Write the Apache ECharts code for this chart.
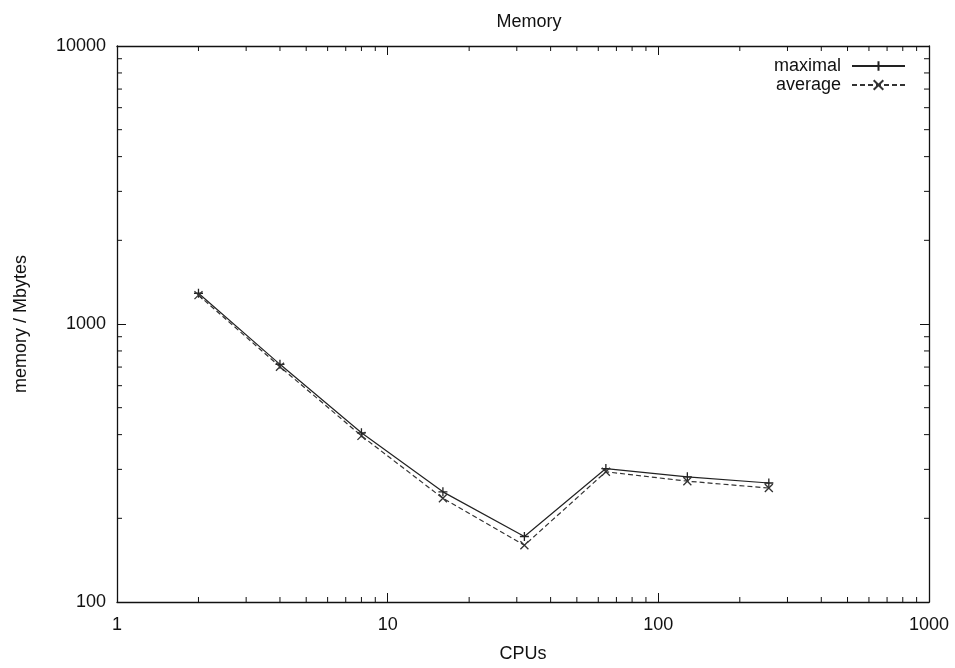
<!DOCTYPE html>
<html>
<head>
<meta charset="utf-8">
<script src="https://cdn.jsdelivr.net/npm/echarts@6/dist/echarts.min.js"></script>
<style>
html,body{margin:0;padding:0;background:#fff;}
#chart{width:955px;height:668px;}
</style>
</head>
<body>
<div id="chart"></div>
<script>
// CPU counts on the x axis
const cpus = [2, 4, 8, 16, 32, 64, 128, 256];
// Peak memory per run (Mbytes)
const maximal = [1290, 716, 406, 249, 172, 302, 282, 268];
// Mean memory per run (Mbytes)
const average = [1270, 702, 396, 236, 160, 294, 272, 257];
// Axis ranges (decades)
const xRange = [1, 1000];
const yRange = [100, 10000];

const FONT = '"Liberation Sans", Arial, sans-serif';
const INK = '#111';
const FS = 18;

// minor ticks at 2..9 within each decade
function minorValues(lo, hi) {
  const out = [];
  for (let d = lo; d < hi; d *= 10) {
    for (let k = 2; k <= 9; k++) out.push(d * k);
  }
  return out;
}
const xMinor = minorValues(xRange[0], xRange[1]);
const yMinor = minorValues(yRange[0], yRange[1]);

const tickData = [];
xMinor.forEach(v => { tickData.push([v, yRange[0], 'b']); tickData.push([v, yRange[1], 't']); });
yMinor.forEach(v => { tickData.push([xRange[0], v, 'l']); tickData.push([xRange[1], v, 'r']); });

const plusPath = 'path://M0,5L10,5M5,0L5,10';
const crossPath = 'path://M0,0L10,10M10,0L0,10';

const chart = echarts.init(document.getElementById('chart'), null, {renderer: 'canvas'});

const plainNumber = v => String(Math.round(v));

const axisBase = {
  type: 'log', logBase: 10,
  axisLine: {show: true, lineStyle: {color: INK, width: 1.3}},
  axisTick: {show: true, inside: true, length: 9, lineStyle: {color: INK, width: 1}},
  axisLabel: {show: false},
  splitLine: {show: false}
};

chart.setOption({
  animation: false,
  backgroundColor: '#fff',
  title: {
    text: 'Memory',
    left: 524, top: 8, textAlign: 'center',
    textStyle: {fontFamily: FONT, fontSize: FS, fontWeight: 'normal', color: INK}
  },
  legend: {
    orient: 'vertical',
    right: 44, top: 52,
    align: 'right',
    itemWidth: 53, itemHeight: 12, itemGap: 1,
    textStyle: {fontFamily: FONT, fontSize: FS, lineHeight: 18, color: INK, padding: [0, 6, 0, 0]},
    data: ['maximal', 'average']
  },
  grid: {left: 117, right: 26, top: 46, bottom: 62},
  xAxis: [
    Object.assign({}, axisBase, {
      position: 'bottom', min: xRange[0], max: xRange[1],
      name: 'CPUs', nameLocation: 'middle', nameGap: 43,
      nameTextStyle: {fontFamily: FONT, fontSize: FS, color: INK},
      axisLabel: {show: true, fontFamily: FONT, fontSize: FS, color: INK, margin: 14, formatter: plainNumber}
    }),
    Object.assign({}, axisBase, {position: 'top', min: xRange[0], max: xRange[1]})
  ],
  yAxis: [
    Object.assign({}, axisBase, {
      position: 'left', min: yRange[0], max: yRange[1],
      name: 'memory / Mbytes', nameLocation: 'middle', nameGap: 87,
      nameTextStyle: {fontFamily: FONT, fontSize: FS, color: INK},
      axisLabel: {show: true, fontFamily: FONT, fontSize: FS, color: INK, margin: 11, formatter: plainNumber}
    }),
    Object.assign({}, axisBase, {position: 'right', min: yRange[0], max: yRange[1]})
  ],
  series: [
    {
      name: 'maximal', type: 'line',
      data: cpus.map((c, i) => [c, maximal[i]]),
      symbol: plusPath, symbolSize: 9, showAllSymbol: true,
      lineStyle: {color: '#222', width: 1.2, type: 'solid'},
      itemStyle: {color: '#222', borderColor: '#222', borderWidth: 1.3}
    },
    {
      name: 'average', type: 'line',
      data: cpus.map((c, i) => [c, average[i]]),
      symbol: crossPath, symbolSize: 8, showAllSymbol: true,
      lineStyle: {color: '#333', width: 1.2, type: [5, 3]},
      itemStyle: {color: '#333', borderColor: '#333', borderWidth: 1.3}
    },
    {
      // minor ticks on all four sides of the frame
      type: 'custom', silent: true, legendHoverLink: false,
      data: tickData,
      renderItem: function (params, api) {
        const p = api.coord([api.value(0), api.value(1)]);
        const side = tickData[params.dataIndex][2];
        const L = 5;
        let x2 = p[0], y2 = p[1];
        if (side === 'b') y2 -= L;
        else if (side === 't') y2 += L;
        else if (side === 'l') x2 += L;
        else x2 -= L;
        return {
          type: 'line',
          shape: {x1: p[0], y1: p[1], x2: x2, y2: y2},
          style: {stroke: INK, lineWidth: 1}
        };
      }
    }
  ]
});
</script>
</body>
</html>
